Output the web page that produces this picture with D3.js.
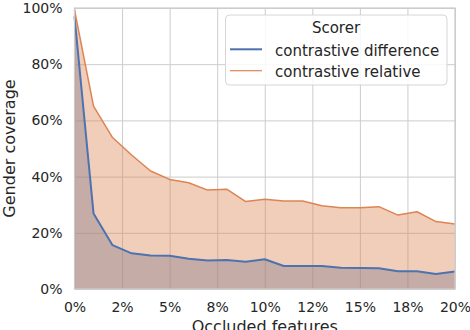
<!DOCTYPE html>
<html>
<head>
<meta charset="utf-8">
<script src="https://cdn.jsdelivr.net/npm/d3@7"></script>
<style>
  body { margin: 0; background: #fff; }
  svg { display: block; font-family: "DejaVu Sans", sans-serif; }
</style>
</head>
<body>
<div id="chart"></div>
<script>
// share of features occluded (%)
const occluded = [0, 1, 2, 3, 4, 5, 6, 7, 8, 9, 10, 11, 12, 13, 14, 15, 16, 17, 18, 19, 20];
// gender coverage (%) per scorer
const contrastiveDifference = [97, 26.9, 15.6, 12.7, 11.9, 11.8, 10.8, 10.1, 10.3, 9.7, 10.6, 8.2, 8.2, 8.2, 7.6, 7.5, 7.4, 6.3, 6.3, 5.3, 6.2];
const contrastiveRelative = [99.3, 65.1, 53.9, 47.7, 42.0, 39.0, 37.8, 35.2, 35.5, 31.1, 31.9, 31.3, 31.3, 29.6, 28.9, 28.9, 29.3, 26.3, 27.5, 24.0, 23.1];

const xTicks = [0, 2.5, 5, 7.5, 10, 12.5, 15, 17.5, 20];
const xTickLabels = ["0%", "2%", "5%", "8%", "10%", "12%", "15%", "18%", "20%"];
const yTicks = [0, 20, 40, 60, 80, 100];
const yTickLabels = ["0%", "20%", "40%", "60%", "80%", "100%"];

const series = [
  { name: "contrastive difference", values: contrastiveDifference, color: "#4c72b0", width: 2 },
  { name: "contrastive relative", values: contrastiveRelative, color: "#dd8452", width: 1.5 }
];

const width = 470;
const height = 330;
const margin = { left: 74.5, right: 15, top: 8, bottom: 41 };
const plotW = width - margin.left - margin.right;
const plotH = height - margin.top - margin.bottom;

const svg = d3.select("#chart")
  .append("svg")
  .attr("width", width)
  .attr("height", height);

const g = svg.append("g")
  .attr("transform", `translate(${margin.left},${margin.top})`);

const x = d3.scaleLinear().domain([0, 20]).range([0, plotW]);
const y = d3.scaleLinear().domain([0, 100]).range([plotH, 0]);

// grid + tick labels
const xAxis = g.append("g")
  .attr("transform", `translate(0,${plotH})`)
  .call(d3.axisBottom(x)
    .tickValues(xTicks)
    .tickFormat((d, i) => xTickLabels[i])
    .tickSize(-plotH)
    .tickPadding(13));

const yAxis = g.append("g")
  .call(d3.axisLeft(y)
    .tickValues(yTicks)
    .tickFormat((d, i) => yTickLabels[i])
    .tickSize(-plotW)
    .tickPadding(12));

[xAxis, yAxis].forEach((ax) => {
  ax.select(".domain").remove();
  ax.selectAll(".tick line").attr("stroke", "#cccccc").attr("stroke-width", 1);
  ax.selectAll(".tick text")
    .attr("fill", "#262626")
    .style("font-size", "14px")
    .style("font-family", "DejaVu Sans");
});

// filled areas under each curve
const area = d3.area()
  .x((d, i) => x(occluded[i]))
  .y0(y(0))
  .y1((d) => y(d));

const line = d3.line()
  .x((d, i) => x(occluded[i]))
  .y((d) => y(d));

series.forEach((s) => {
  g.append("path")
    .datum(s.values)
    .attr("d", area)
    .attr("fill", s.color)
    .attr("fill-opacity", 0.4);
});

series.forEach((s) => {
  g.append("path")
    .datum(s.values)
    .attr("d", line)
    .attr("fill", "none")
    .attr("stroke", s.color)
    .attr("stroke-width", s.width)
    .attr("stroke-linejoin", "round");
});

// spines
g.append("rect")
  .attr("width", plotW)
  .attr("height", plotH)
  .attr("fill", "none")
  .attr("stroke", "#cccccc")
  .attr("stroke-width", 1.25);

// axis labels
svg.append("text")
  .attr("x", margin.left + plotW / 2)
  .attr("y", 332)
  .attr("text-anchor", "middle")
  .attr("fill", "#262626")
  .style("font-size", "16px")
  .text("Occluded features");

svg.append("text")
  .attr("transform", `translate(15,${margin.top + plotH / 2}) rotate(-90)`)
  .attr("text-anchor", "middle")
  .attr("fill", "#262626")
  .style("font-size", "16px")
  .text("Gender coverage");

// legend
const legend = svg.append("g").attr("transform", "translate(225.5,15)");

legend.append("rect")
  .attr("width", 221.5)
  .attr("height", 70)
  .attr("rx", 4)
  .attr("fill", "#ffffff")
  .attr("fill-opacity", 0.85)
  .attr("stroke", "#d6d6d6")
  .attr("stroke-width", 1);

legend.append("text")
  .attr("x", 110.5)
  .attr("y", 17.5)
  .attr("text-anchor", "middle")
  .attr("fill", "#262626")
  .style("font-size", "15px")
  .text("Scorer");

series.forEach((s, i) => {
  const row = legend.append("g").attr("transform", `translate(0,${34.3 + i * 21.4})`);
  row.append("line")
    .attr("x1", 4.5)
    .attr("x2", 36.5)
    .attr("stroke", s.color)
    .attr("stroke-width", i === 0 ? 2 : 1.2);
  row.append("text")
    .attr("x", 49.5)
    .attr("y", 6.5)
    .attr("fill", "#262626")
    .style("font-size", "15px")
    .text(s.name);
});
</script>
</body>
</html>
